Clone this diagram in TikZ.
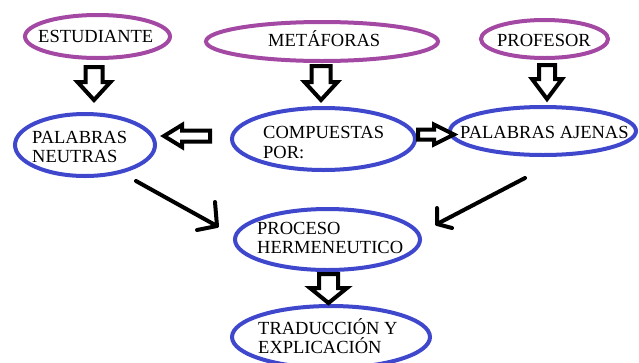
\documentclass[tikz,border=0pt]{standalone}
\usepackage{fontspec}
\setmainfont{Liberation Serif}
\usetikzlibrary{shapes.geometric}
\definecolor{ppurple}{HTML}{A349A4}
\definecolor{pblue}{HTML}{3F48CC}
\begin{document}
\begin{tikzpicture}[x=1pt,y=-1pt,
  pel/.style={draw=ppurple, line width=4pt, ellipse, inner sep=0pt},
  bel/.style={draw=pblue, line width=4pt, ellipse, inner sep=0pt},
  txt/.style={inner sep=0pt, anchor=base west, font=\fontsize{18.5}{20}\selectfont},
  blk/.style={draw=black, line width=4pt, fill=white, line join=miter},
  ln/.style={draw=black, line width=4pt, line cap=round, line join=round}]
\useasboundingbox[fill=white] (0,0) rectangle (639,362);
% ellipses
\node[pel, minimum width=145pt, minimum height=43pt] (est) at (97.5,36.5) {};
\node[pel, minimum width=232pt, minimum height=39pt] (met) at (322,41.5) {};
\node[pel, minimum width=127pt, minimum height=38pt] (pro) at (544.5,39) {};
\node[bel, minimum width=140pt, minimum height=62pt] (neu) at (85,145) {};
\node[bel, minimum width=183pt, minimum height=62pt] (com) at (323.5,139) {};
\node[bel, minimum width=186pt, minimum height=48pt] (aje) at (543,131) {};
\node[bel, minimum width=185pt, minimum height=61pt] (her) at (327.5,239.5) {};
\node[bel, minimum width=198pt, minimum height=62pt] (tra) at (331,337) {};
% block arrows
\coordinate (d1) at (94,67);
\coordinate (d2) at (321,66);
\coordinate (d3) at (547,65);
\coordinate (d4) at (328.5,274);
\draw[blk, shift={(d1)}] (-8.5,0) -- (-8.5,15) -- (-16.5,15) -- (0,33) -- (16.5,15) -- (8.5,15) -- (8.5,0) -- cycle;
\draw[blk, shift={(d2)}] (-9.5,0) -- (-9.5,16) -- (-16.5,16) -- (0,34) -- (16.5,16) -- (9.5,16) -- (9.5,0) -- cycle;
\draw[blk, shift={(d3)}] (-8,0) -- (-8,14) -- (-15,14) -- (0,34) -- (15,14) -- (8,14) -- (8,0) -- cycle;
\draw[blk, shift={(d4)}] (-9.5,0) -- (-9.5,14) -- (-18.5,14) -- (0,29) -- (18.5,14) -- (9.5,14) -- (9.5,0) -- cycle;
\coordinate (h1) at (210,136);
\coordinate (h2) at (418,134.5);
\draw[blk, shift={(h1)}] (0,-5.5) -- (-28,-5.5) -- (-28,-11) -- (-46,0) -- (-28,11) -- (-28,5.5) -- (0,5.5) -- cycle;
\draw[blk, shift={(h2)}] (0,-5) -- (16,-5) -- (16,-10) -- (36,0) -- (16,10) -- (16,5) -- (0,5) -- cycle;
% line arrows
\coordinate (la0) at (136,181);
\coordinate (la1) at (217,226);
\coordinate (la2) at (215,202);
\coordinate (la3) at (197,230);
\draw[ln] (la0) -- (la1);
\draw[ln] (la2) -- (la1) -- (la3);
\coordinate (ra0) at (525,178);
\coordinate (ra1) at (437,224);
\coordinate (ra2) at (437,208);
\coordinate (ra3) at (452,228);
\draw[ln] (ra0) -- (ra1);
\draw[ln] (ra2) -- (ra1) -- (ra3);
% texts
\node[txt] (test) at (38,42.5) {ESTUDIANTE};
\node[txt] (tmet) at (268,46) {METÁFORAS};
\node[txt] (tpro) at (497,46) {PROFESOR};
\node[txt] (tneu1) at (32,143) {PALABRAS};
\node[txt] (tneu2) at (32,162) {NEUTRAS};
\node[txt] (tcom1) at (263,138) {COMPUESTAS};
\node[txt] (tcom2) at (263,158) {POR:};
\node[txt] (taje) at (460,138) {PALABRAS AJENAS};
\node[txt] (ther1) at (257,234) {PROCESO};
\node[txt] (ther2) at (257,253) {HERMENEUTICO};
\node[txt] (ttra1) at (258,334) {TRADUCCIÓN Y};
\node[txt] (ttra2) at (258,353) {EXPLICACIÓN};
\end{tikzpicture}
\end{document}
